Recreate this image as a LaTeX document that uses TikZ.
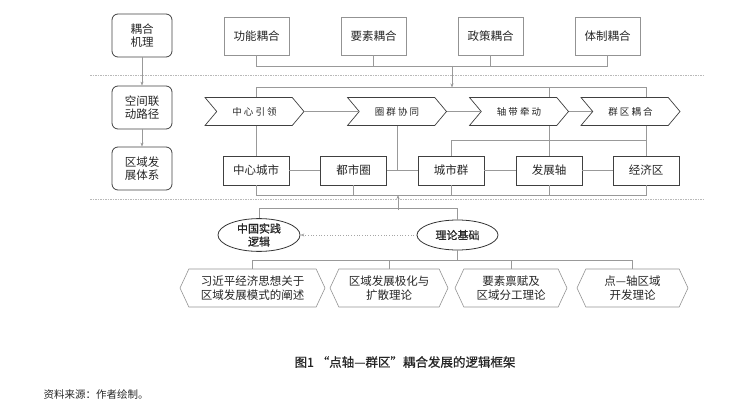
\documentclass[tikz,border=0pt]{standalone}
\usepackage{fontspec}
\newfontfamily\cjk{Noto Sans CJK SC}
\newfontfamily\cjkm[FakeBold=0.8]{Noto Sans CJK SC}
\usetikzlibrary{shapes.geometric,shapes.symbols,arrows.meta}
\begin{document}
\begin{tikzpicture}[x=1pt,y=-1pt,font=\cjk\fontsize{11.5}{13.5}\selectfont,text=black!85,
  line/.style={draw=gray!80,line width=0.6pt},
  tip/.style={-{Stealth[length=4pt,width=3pt]}},
  sep/.style={draw=gray!55,dash pattern=on 1.5pt off 1pt,line width=0.6pt},
  sidebox/.style={draw=black!75,line width=0.8pt,rounded corners=6pt,minimum width=60pt,minimum height=43pt,align=center},
  topbox/.style={draw=gray!85,line width=0.6pt,minimum width=65pt,minimum height=38pt},
  chev/.style={signal,signal from=west,signal to=east,signal pointer angle=100,draw=black!75,fill=white,line width=0.7pt,minimum width=99pt,minimum height=28pt,font=\cjk\fontsize{9.5}{11}\selectfont},
  citybox/.style={draw=black!75,line width=0.8pt,minimum width=66pt,minimum height=29pt},
  oval/.style={ellipse,draw=black!80,line width=0.8pt,minimum width=82pt,minimum height=30pt,inner sep=0pt,align=center,font=\cjkm\fontsize{11}{13}\selectfont},
  hexbox/.style={signal,signal to=west and east,signal pointer angle=130,draw=gray!85,line width=0.6pt,minimum height=38pt,align=center}]
\useasboundingbox (0,0) rectangle (755,412);
% left column
\node[sidebox] (l1) at (142,35.5) {耦合\\机理};
\node[sidebox] (l2) at (142,107.5) {空间联\\动路径};
\node[sidebox] (l3) at (142,168.5) {区域发\\展体系};
\draw[line,tip] (l1) -- (l2);
\draw[line,tip] (l2) -- (l3);
% separators
\draw[sep] (90,75) -- (703,75);
\draw[sep] (90,199.5) -- (703,199.5);
% coupling mechanisms
\node[topbox] (f1) at (256.5,36) {功能耦合};
\node[topbox] (f2) at (373.5,36) {要素耦合};
\node[topbox] (f3) at (490.5,36) {政策耦合};
\node[topbox] (f4) at (607.5,36) {体制耦合};
\draw[line] (f1.south) -- ++(0,11) -| (f4.south);
\draw[line] (f2.south) -- ++(0,11);
\draw[line] (f3.south) -- ++(0,11);
\coordinate (drop) at (452,66);
\coordinate (ctop) at (0,87.5);
% linkage paths
\node[chev] (c1) at (254.5,111.5) {中 心 引 领};
\node[chev] (c2) at (397,111.5) {圈 群 协 同};
\node[chev] (c3) at (519,111.5) {轴 带 牵 动};
\node[chev] (c4) at (630.5,111.5) {群 区 耦 合};
\draw[line] (c1.east) -- (c2.west);
\draw[line] (c2.east) -- (c3.west);
\draw[line] (c3.east) -- (c4.west);
% development system
\node[citybox] (b1) at (256,170.5) {中心城市};
\node[citybox] (b2) at (353.5,170.5) {都市圈};
\node[citybox] (b3) at (451,170.5) {城市群};
\node[citybox] (b4) at (549,170.5) {发展轴};
\node[citybox] (b5) at (646,170.5) {经济区};
\draw[line] (b1) -- (b2);
\draw[line] (b2) -- (b3);
\draw[line] (b3) -- (b4);
\draw[line] (b4) -- (b5);
\draw[line] (c1.north -| b1) |- (ctop -| b5) -- (c4.north -| b5);
\draw[line] (c3.north -| b4) -- (ctop -| b4);
\draw[line,tip] (drop) -- (ctop -| drop);
\draw[line] (c1.south -| b1) -- (b1.north);
\draw[line] (c3.south -| b4) -- (b4.north);
\draw[line] (c4.south -| b5) -- (b5.north);
\draw[line] (c2.south) -- (c2.south |- b2.east);
\draw[line] (b3.north) -- ++(0,-15) -| (b5.north);
\draw[line] (b1.south) -- ++(0,10) -| (b5.south);
\draw[line] (b2.south) -- ++(0,10);
\draw[line] (b3.south) -- ++(0,10);
\draw[line] (b4.south) -- ++(0,10);
% foundations
\node[oval] (e1) at (259,235) {中国实践\\逻辑};
\node[oval,minimum width=81pt] (e2) at (457.5,235) {理论基础};
\draw[line] (e1.north) -- ++(0,-10) -| (e2.north);
\coordinate (rise) at (398,210);
\draw[line,tip] (rise) -- ++(0,-15);
\draw[draw=gray!70,dotted,line width=0.7pt,tip] (e2) -- (e1);
\node[hexbox,minimum width=145pt] (h1) at (252.5,288) {习近平经济思想关于\\区域发展模式的阐述};
\node[hexbox,minimum width=118pt] (h2) at (389,288) {区域发展极化与\\扩散理论};
\node[hexbox,minimum width=112pt] (h3) at (511,288) {要素禀赋及\\区域分工理论};
\node[hexbox,minimum width=111pt] (h4) at (632.5,288) {点—轴区域\\开发理论};
\draw[line] (h1.north) -- ++(0,-8) -| (h4.north);
\draw[line] (h2.north) -- ++(0,-8);
\draw[line] (h3.north) -- ++(0,-8);
\draw[line] (e2.south) -- ++(0,11);
% caption
\node (cap) at (405,362) {\cjkm\fontsize{12.5}{14}\selectfont 图1\ “点轴—群区”耦合发展的逻辑框架};
\node[anchor=west,font=\cjk\fontsize{10.5}{12}\selectfont] (src) at (40,395) {资料来源：作者绘制。};
\end{tikzpicture}
\end{document}
